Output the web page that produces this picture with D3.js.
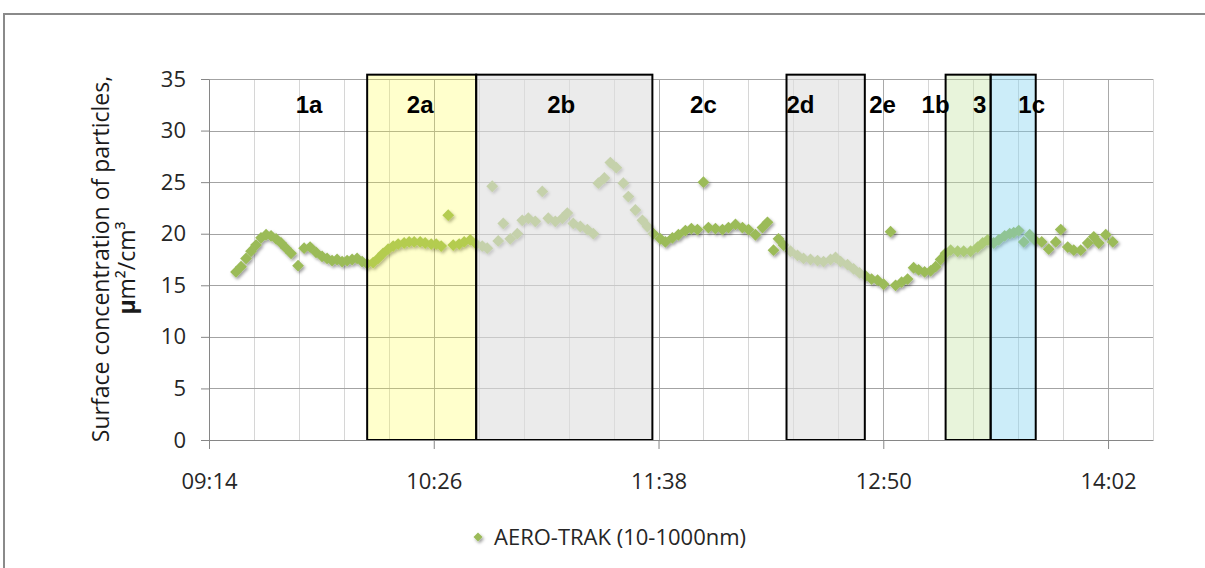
<!DOCTYPE html>
<html><head><meta charset="utf-8">
<script src="https://cdn.jsdelivr.net/npm/d3@7"></script>
<style>
body{margin:0;background:#fff}
svg{display:block}
text{font-family:"Open Sans",sans-serif}
</style>
</head><body>
<svg id="c" width="1205" height="568"></svg>
<script>
// ---- data ----
const times = [
"09:22:39","09:24:16","09:25:52","09:27:28","09:29:04","09:30:40","09:32:17","09:33:53","09:35:29","09:37:05",
"09:38:41","09:40:17","09:42:32","09:44:28","09:46:23","09:48:18","09:50:14","09:51:50","09:53:26","09:55:02",
"09:56:39","09:58:15","09:59:51","10:01:27","10:03:03","10:04:39","10:06:35","10:08:11","10:09:47","10:11:23",
"10:13:00","10:14:36","10:16:31","10:18:07","10:19:44","10:21:39","10:23:15","10:25:11","10:26:47","10:28:23",
"10:30:38","10:32:14","10:34:09","10:35:45","10:37:41","10:39:36","10:41:32","10:43:08","10:44:44","10:46:39",
"10:48:16","10:50:30","10:52:45","10:54:21","10:56:17","10:58:31","11:00:46","11:02:41","11:04:56","11:07:11",
"11:08:47","11:10:42","11:12:57","11:15:12","11:17:07","11:18:43","11:20:39","11:22:34","11:24:29","11:26:44",
"11:28:20","11:30:35","11:32:50","11:34:26","11:36:21","11:38:36","11:40:12","11:42:27","11:44:22","11:46:37",
"11:48:32","11:50:28","11:52:23","11:53:59","11:56:14","11:58:29","12:00:24","12:02:39","12:04:53","12:06:49",
"12:09:03","12:11:18","12:12:54","12:14:50","12:16:26","12:18:02","12:20:17","12:22:31","12:24:27","12:26:41",
"12:28:56","12:30:52","12:33:06","12:34:42","12:36:19","12:38:33","12:40:29","12:42:24","12:44:19","12:46:15",
"12:48:10","12:50:06","12:52:20","12:53:57","12:55:52","12:57:47","12:59:43","13:01:19","13:03:14","13:05:10",
"13:06:46","13:08:22","13:09:58","13:11:35","13:13:49","13:15:45","13:17:59","13:20:14","13:21:50","13:23:26",
"13:25:22","13:26:58","13:28:53","13:30:30","13:31:47","13:33:23","13:34:59","13:36:54","13:38:31","13:40:45",
"13:43:00","13:45:15","13:46:51","13:49:05","13:51:01","13:53:15","13:55:30","13:57:26","13:59:02","14:01:16",
"14:03:31"
];
const values = [
16.3,16.8,17.6,18.3,18.9,19.6,19.9,19.8,19.5,19.1,
18.6,18.1,16.9,18.6,18.7,18.2,17.8,17.6,17.4,17.5,
17.3,17.4,17.5,17.6,17.3,17.1,17.2,17.6,18.1,18.5,
18.8,19.0,19.1,19.2,19.2,19.2,19.1,19.0,19.0,18.8,
21.8,18.9,19.0,19.2,19.4,19.0,18.8,18.6,24.6,19.3,
21.0,19.5,20.0,21.3,21.5,21.2,24.1,21.5,21.2,21.5,
22.0,21.0,20.7,20.4,20.0,24.9,25.4,26.9,26.4,24.9,
23.6,22.3,21.3,20.7,20.0,19.5,19.2,19.6,19.9,20.3,
20.5,20.4,25.0,20.6,20.5,20.4,20.6,20.9,20.6,20.4,
19.9,20.6,21.1,18.4,19.5,18.9,18.3,17.9,17.6,17.5,
17.4,17.3,17.5,17.7,17.3,17.0,16.6,16.2,15.9,15.6,
15.5,15.1,20.2,15.0,15.3,15.6,16.7,16.5,16.3,16.4,
16.8,17.5,18.1,18.4,18.3,18.3,18.3,18.7,19.1,19.4,
19.1,19.4,19.8,20.0,20.1,20.3,19.2,19.9,19.4,19.2,
18.5,19.2,20.4,18.7,18.4,18.4,19.1,19.7,19.1,19.9,
19.2
];
const yTicks = [0,5,10,15,20,25,30,35];
const xTickLabels = ["09:14","10:26","11:38","12:50","14:02"];
const periodNames = ["2a","2b","2d","3","1c"];
const periodStart = ["10:04:40","10:39:36","12:19:00","13:09:58","13:24:24"];
const periodEnd   = ["10:39:36","11:36:02","12:44:05","13:24:24","13:38:50"];
const phaseLabels = ["1a","2a","2b","2c","2d","2e","1b","3","1c"];
const phaseLabelTimes = ["09:46:04","10:21:39","11:06:51","11:52:23","12:23:29","12:49:47","13:06:46","13:20:52","13:37:33"];
const seriesName = "AERO-TRAK (10-1000nm)";
const yTitle = ["Surface concentration of particles,", "µm²/cm³"];

// ---- drawing ----
const parseS = d3.timeParse("%H:%M:%S");
const parseM = d3.timeParse("%H:%M");
const t0 = parseS("09:14:00");
const x = d3.scaleTime().domain([t0, new Date(t0.getTime() + 302.4*60000)]).range([209, 1153]);
const y = d3.scaleLinear().domain([0, 35]).range([440, 79]);

const svg = d3.select("#c");
const defs = svg.append("defs");
const f = defs.append("filter").attr("id","sh").attr("x","-50%").attr("y","-50%").attr("width","200%").attr("height","200%");
f.append("feDropShadow").attr("dx",1.5).attr("dy",2).attr("stdDeviation",1.4)
 .attr("flood-color","#000").attr("flood-opacity",0.38);

// outer chart border
svg.append("rect").attr("x",4).attr("y",14).attr("width",1260).attr("height",620)
  .attr("fill","none").attr("stroke","#8a8a8a").attr("stroke-width",2);

const minor = d3.range(0, 22).map(i => new Date(t0.getTime() + i*14.4*60000));
const major = xTickLabels.map(parseM);

const grid = svg.append("g");
grid.selectAll("line.vm").data(minor).join("line")
  .attr("x1", d => Math.round(x(d))+0.5).attr("x2", d => Math.round(x(d))+0.5)
  .attr("y1", y(35)).attr("y2", y(0))
  .attr("stroke", (d,i) => (i % 5 === 0) ? "#a9a9a9" : "#d6d6d6").attr("stroke-width",1);
grid.selectAll("line.h").data(yTicks).join("line")
  .attr("x1", x.range()[0]).attr("x2", x.range()[1])
  .attr("y1", d => Math.round(y(d))+0.5).attr("y2", d => Math.round(y(d))+0.5)
  .attr("stroke", "#a3a3a3").attr("stroke-width",1);

// points
const diamond = r => `M0,${-r}L${r},0L0,${r}L${-r},0Z`;
const pts = times.map((t,i) => ({t: parseS(t), v: values[i]}));
svg.append("g").attr("filter","url(#sh)")
  .selectAll("path").data(pts).join("path")
  .attr("d", diamond(5.9))
  .attr("transform", d => `translate(${x(d.t)},${y(d.v)})`)
  .attr("fill", "#9bbb59");

// shaded periods
const periodFill = {"2a":["#ffff33",0.25], "2b":["#dedede",0.62], "2d":["#dedede",0.62], "3":["#c5e3a5",0.4], "1c":["#7fd3f0",0.4]};
const boxTop = 35.42;
svg.append("g").selectAll("rect").data(periodNames).join("rect")
  .attr("x", (d,i) => x(parseS(periodStart[i])))
  .attr("width", (d,i) => x(parseS(periodEnd[i])) - x(parseS(periodStart[i])))
  .attr("y", y(boxTop)).attr("height", y(0) - y(boxTop))
  .attr("fill", d => periodFill[d][0]).attr("fill-opacity", d => periodFill[d][1])
  .attr("stroke", "#000").attr("stroke-width", 2);

// phase labels
svg.append("g").selectAll("text").data(phaseLabels).join("text")
  .attr("x", (d,i) => x(parseS(phaseLabelTimes[i])))
  .attr("y", y(31.7))
  .attr("text-anchor","middle")
  .style("font-family","'Liberation Sans',Arial,sans-serif")
  .style("font-weight","bold").style("font-size","24px").attr("fill","#000")
  .text(d => d);

// axes
const yAxis = svg.append("g").attr("transform", `translate(${x.range()[0]},0)`)
  .call(d3.axisLeft(y).tickValues(yTicks).tickSize(8).tickSizeOuter(0).tickPadding(15));
const xAxis = svg.append("g").attr("transform", `translate(0,${y(0)})`)
  .call(d3.axisBottom(x).tickValues(major).tickFormat(d3.timeFormat("%H:%M")).tickSize(9).tickSizeOuter(0).tickPadding(24));
[yAxis, xAxis].forEach(a => {
  a.select(".domain").attr("stroke","#868686");
  a.selectAll(".tick line").attr("stroke","#868686");
  a.selectAll(".tick text").style("font-size","22px").style("font-family","'Open Sans',sans-serif").attr("fill","#262626");
});

// y title
svg.append("text").attr("transform","translate(101,259) rotate(-90)")
  .attr("text-anchor","middle").attr("dy","0.35em")
  .style("font-size","23px").attr("fill","#1a1a1a").text(yTitle[0]);
const t2 = svg.append("text").attr("transform","translate(127,268) rotate(-90)")
  .attr("text-anchor","middle").attr("dy","0.35em")
  .style("font-size","23px").attr("fill","#1a1a1a");
t2.append("tspan").style("font-weight","bold").text(yTitle[1].slice(0,1));
t2.append("tspan").text(yTitle[1].slice(1));

// legend
const lg = svg.append("g").attr("transform","translate(478,537)");
lg.append("path").attr("d", diamond(4.5)).attr("fill","#9bbb59").attr("filter","url(#sh)");
lg.append("text").attr("x",16).attr("dy","0.35em").style("font-size","22px").attr("fill","#262626").text(seriesName);
</script>
</body></html>
